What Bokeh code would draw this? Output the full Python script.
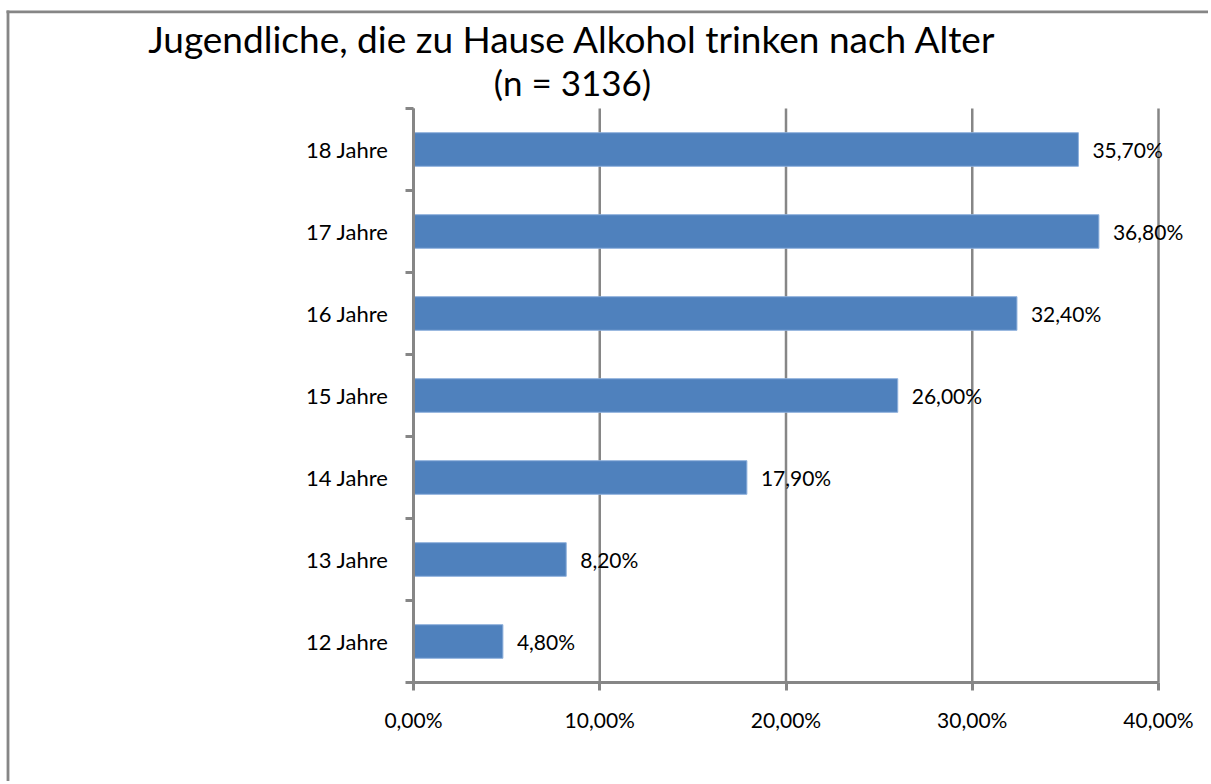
from bokeh.plotting import figure
from bokeh.models import ColumnDataSource, LabelSet, Label, FixedTicker, Range1d
from bokeh.core.properties import value
from bokeh.embed import file_html
from bokeh.resources import INLINE

categories = ["12 Jahre", "13 Jahre", "14 Jahre", "15 Jahre", "16 Jahre", "17 Jahre", "18 Jahre"]
values = [4.8, 8.2, 17.9, 26.0, 32.4, 36.8, 35.7]
x_ticks = [0, 10, 20, 30, 40]
x_tick_labels = ["0,00%", "10,00%", "20,00%", "30,00%", "40,00%"]
title_line1 = "Jugendliche, die zu Hause Alkohol trinken nach Alter"
title_line2 = "(n = 3136)"

FONT = "Lato"
GRAY = "#868686"
BAR = "#4F81BD"
W, H = 1208, 781

# layout: pixel positions of the plotting area (axis origin / ends)
AX_LEFT, AX_RIGHT, AX_TOP, AX_BOTTOM = 413, 1158, 108, 682
XMAX = x_ticks[-1]
N = len(categories)
sx = XMAX / (AX_RIGHT - AX_LEFT)
sy = N / (AX_BOTTOM - AX_TOP)


def px_x(px):
    return (px - AX_LEFT) * sx


def px_y(py):
    return (AX_BOTTOM - py) * sy


pos = [i + 0.5 for i in range(N)]
labels = [f"{v:.2f}".replace(".", ",") + "%" for v in values]
src = ColumnDataSource(dict(y=pos, x=values, cat=categories, lab=labels))

p = figure(width=W, height=H, output_backend="svg", toolbar_location=None,
           x_range=Range1d(px_x(0), px_x(W)), y_range=Range1d(px_y(H), px_y(0)),
           min_border_left=0, min_border_right=0, min_border_top=0, min_border_bottom=0)
p.outline_line_color = None
p.background_fill_color = "white"
p.border_fill_color = "white"
p.grid.visible = False

# chart-area border (left and top edges visible)
p.segment(x0=[px_x(7.5), px_x(6)], y0=[px_y(H), px_y(11.3)],
          x1=[px_x(7.5), px_x(W)], y1=[px_y(10), px_y(11.3)],
          line_color=GRAY, line_width=2.8)

# vertical gridlines (behind bars)
p.segment(x0=x_ticks, x1=x_ticks, y0=[0] * len(x_ticks), y1=[N] * len(x_ticks),
          line_color=GRAY, line_width=2.5)

p.hbar(y="y", right="x", left=0, height=0.41, source=src,
       fill_color=BAR, line_color="#8eb0dc", line_width=1)

# x axis
xa = p.xaxis[0]
xa.fixed_location = 0
xa.bounds = (0, XMAX)
xa.ticker = FixedTicker(ticks=x_ticks)
xa.major_label_overrides = {t: l for t, l in zip(x_ticks, x_tick_labels)}
xa.axis_line_color = GRAY
xa.axis_line_width = 3
xa.major_tick_line_color = GRAY
xa.major_tick_line_width = 3
xa.major_tick_out = 8
xa.major_tick_in = 0
xa.minor_tick_line_color = None
xa.major_label_text_font = FONT
xa.major_label_text_font_size = "21px"
xa.major_label_text_color = "black"
xa.major_label_standoff = 16

# y axis
ya = p.yaxis[0]
ya.fixed_location = 0
ya.bounds = (0, N)
ya.ticker = FixedTicker(ticks=pos, minor_ticks=list(range(N + 1)))
ya.major_label_overrides = {y: c for y, c in zip(pos, categories)}
ya.axis_line_color = GRAY
ya.axis_line_width = 3
ya.major_tick_line_color = None
ya.major_tick_out = 0
ya.major_tick_in = 0
ya.minor_tick_line_color = GRAY
ya.minor_tick_line_width = 3
ya.minor_tick_out = 8
ya.minor_tick_in = 0
ya.major_label_text_font = FONT
ya.major_label_text_font_size = "22px"
ya.major_label_text_color = "black"
ya.major_label_standoff = 17

p.add_layout(LabelSet(x="x", y="y", text="lab", source=src, x_offset=14,
                      text_align="left", text_baseline="middle",
                      text_font=value(FONT), text_font_size="21px", text_color="black"))

p.add_layout(Label(x=px_x(572), y=px_y(38), text=title_line1,
                   text_align="center", text_baseline="middle",
                   text_font=FONT, text_font_size="37px", text_color="black"))
p.add_layout(Label(x=px_x(572), y=px_y(81), text=title_line2,
                   text_align="center", text_baseline="middle",
                   text_font=FONT, text_font_size="35px", text_color="black"))

open("out.html", "w").write(file_html(p, INLINE))
